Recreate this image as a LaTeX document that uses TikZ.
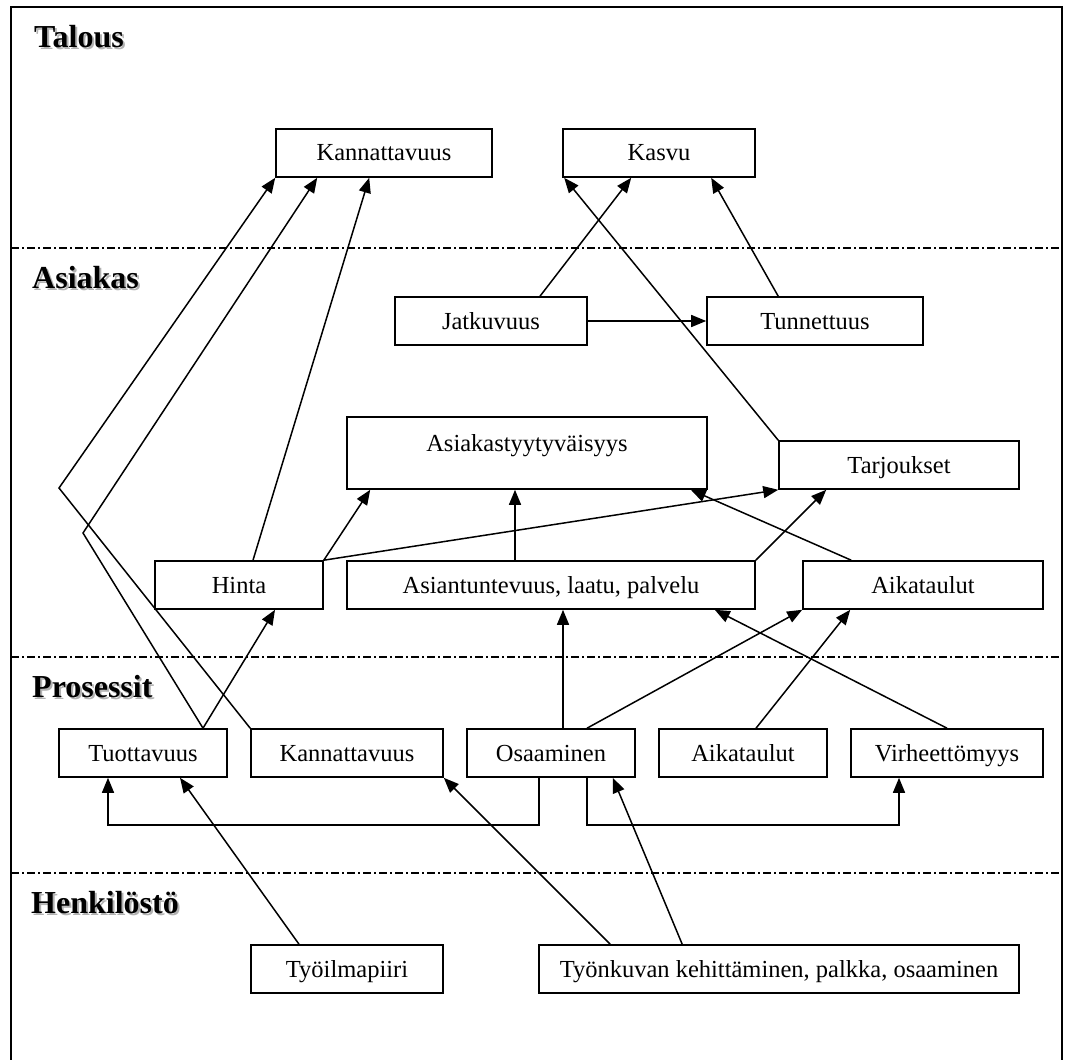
\documentclass[tikz,border=0pt]{standalone}
\usepackage{fontspec}
\setmainfont{Liberation Serif}
\usetikzlibrary{arrows.meta}
\begin{document}
\begin{tikzpicture}[x=1pt,y=-1pt,
  box/.style={draw,line width=1.6pt,inner sep=0pt,minimum height=48pt,
    text height=16pt,text depth=0pt,font=\fontsize{24.5}{28}\selectfont},
  head/.style={anchor=base west,inner sep=0pt,font=\fontsize{32}{36}\selectfont\bfseries},
  headshadow/.style={head,text=black!30},
  conn/.style={line width=1.5pt},
  arr/.style={conn,-{Triangle[length=15pt,width=12pt]}},
  sep/.style={line width=1.2pt,dash pattern=on 8pt off 3pt on 2pt off 3pt}]
\useasboundingbox (0,0) rectangle (1067,1059);
% frame
\draw[line width=1.8pt] (11,1062) -- (11,7) -- (1062,7) -- (1062,1062);
% separators
\draw[sep] (11,248) -- (1062,248);
\draw[sep] (11,657) -- (1062,657);
\draw[sep] (11,873) -- (1062,873);
% headings
\node[headshadow] (talous-s) at (36,50) {Talous};
\node[head] (talous) at (34,48) {Talous};
\node[headshadow] (asiakas-s) at (34,290) {Asiakas};
\node[head] (asiakas) at (32,288) {Asiakas};
\node[headshadow] (prosessit-s) at (34,699) {Prosessit};
\node[head] (prosessit) at (32,697) {Prosessit};
\node[headshadow] (henk-s) at (33,915) {Henkilöstö};
\node[head] (henk) at (31,913) {Henkilöstö};
% boxes
\node[box,minimum width=216pt] (kann1) at (384,153) {Kannattavuus};
\node[box,minimum width=192pt] (kasvu) at (659,153) {Kasvu};
\node[box,minimum width=192pt] (jat) at (491,321) {Jatkuvuus};
\node[box,minimum width=216pt] (tun) at (815,321) {Tunnettuus};
\node[box,minimum width=360pt,minimum height=72pt,text depth=20pt] (asty) at (527,453) {Asiakastyytyväisyys};
\node[box,minimum width=240pt] (tarj) at (899,465) {Tarjoukset};
\node[box,minimum width=168pt] (hinta) at (239,585) {Hinta};
\node[box,minimum width=408pt] (asp) at (551,585) {Asiantuntevuus, laatu, palvelu};
\node[box,minimum width=240pt] (aik1) at (923,585) {Aikataulut};
\node[box,minimum width=168pt] (tuot) at (143,753) {Tuottavuus};
\node[box,minimum width=192pt] (kannp) at (347,753) {Kannattavuus};
\node[box,minimum width=168pt] (osa) at (551,753) {Osaaminen};
\node[box,minimum width=168pt] (aik2) at (743,753) {Aikataulut};
\node[box,minimum width=192pt] (virh) at (947,753) {Virheettömyys};
\node[box,minimum width=192pt] (tyo) at (347,969) {Työilmapiiri};
\node[box,minimum width=480pt] (tyk) at (779,969) {Työnkuvan kehittäminen, palkka, osaaminen};
% bend points
\coordinate (b1) at (59,488);
\coordinate (b2) at (83,533);
% connectors
\draw[arr] (kannp.north west) -- (b1) -- (kann1.south west);
\draw[arr] ([xshift=60pt]tuot.north) -- (b2) -- ([xshift=42pt]kann1.south west);
\draw[arr] ([xshift=14pt]hinta.north) -- ([xshift=94pt]kann1.south west);
\draw[arr] (hinta.north east) -- ([xshift=24pt]asty.south west);
\draw[arr] (hinta.north east) -- (tarj.south west);
\draw[arr] ([xshift=60pt]tuot.north) -- ([xshift=36pt]hinta.south);
\draw[arr] ([xshift=-36pt]asp.north) -- ([xshift=-12pt]asty.south);
\draw[arr] (asp.north east) -- ([xshift=48pt]tarj.south west);
\draw[arr] ([xshift=49pt]aik1.north west) -- ([xshift=-17pt]asty.south east);
\draw[arr] ([xshift=12pt]osa.north) -- ([xshift=12pt]asp.south);
\draw[arr] ([xshift=36pt]osa.north) -- (aik1.south west);
\draw[arr] ([xshift=13pt]aik2.north) -- ([xshift=48pt]aik1.south west);
\draw[arr] (virh.north) -- ([xshift=-41pt]asp.south east);
\draw[arr] ([xshift=49pt]jat.north) -- ([xshift=69pt]kasvu.south west);
\draw[arr] (jat.east) -- (tun.west);
\draw[arr] ([xshift=72pt]tun.north west) -- ([xshift=149pt]kasvu.south west);
\draw[arr] (tarj.north west) -- ([xshift=2pt]kasvu.south west);
\draw[arr] ([xshift=-12pt]osa.south) -- ++(0,47) -| ([xshift=-35pt]tuot.south);
\draw[arr] ([xshift=36pt]osa.south) -- ++(0,47) -| ([xshift=-48pt]virh.south);
\draw[arr] ([xshift=-48pt]tyo.north) -- ([xshift=37pt]tuot.south);
\draw[arr] ([xshift=72pt]tyk.north west) -- (kannp.south east);
\draw[arr] ([xshift=144pt]tyk.north west) -- ([xshift=-23pt]osa.south east);
\end{tikzpicture}
\end{document}
